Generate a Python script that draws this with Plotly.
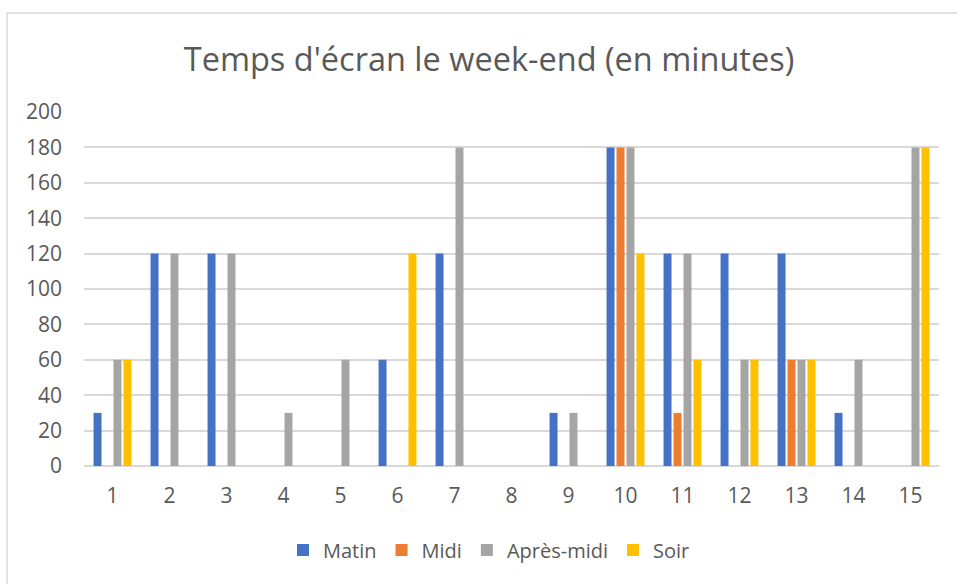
import plotly.graph_objects as go

categories = [str(i) for i in range(1, 16)]
matin = [30, 120, 120, 0, 0, 60, 120, 0, 30, 180, 120, 120, 120, 30, 0]
midi = [0, 0, 0, 0, 0, 0, 0, 0, 0, 180, 30, 0, 60, 0, 0]
apres_midi = [60, 120, 120, 30, 60, 0, 180, 0, 30, 180, 120, 60, 60, 60, 180]
soir = [60, 0, 0, 0, 0, 120, 0, 0, 0, 120, 60, 60, 60, 0, 180]

series = [("Matin", matin, "#4472C4"), ("Midi", midi, "#ED7D31"),
          ("Après-midi", apres_midi, "#A5A5A5"), ("Soir", soir, "#FFC000")]

fig = go.Figure()
for name, vals, col in series:
    fig.add_trace(go.Bar(x=categories, y=vals, name=name, marker_color=col,
                         marker_line_width=0))

W, H = 957, 584
L, R, T, B = 84, 18, 112, 118
pw, ph = W - L - R, H - T - B
def px(x): return (x - L) / pw
def py(y): return (H - B - y) / ph

fig.update_layout(
    width=W, height=H,
    margin=dict(l=L, r=R, t=T, b=B),
    paper_bgcolor="white", plot_bgcolor="white",
    font=dict(family="Open Sans, Liberation Sans, sans-serif", color="#595959", size=21),
    title=dict(text="Temps d'écran le week-end (en minutes)", x=px(489), xanchor="center",
               xref="paper", y=1 - 60 / H, yanchor="middle",
               font=dict(size=32.5, color="#595959")),
    barmode="group", bargap=0.3, bargroupgap=0.2,
    legend=dict(orientation="h", x=px(489), xanchor="center", y=py(550), yanchor="middle",
                font=dict(size=20, color="#595959"), traceorder="normal",
                itemwidth=30),
    xaxis=dict(showgrid=False, ticks="", showline=False, tickfont=dict(size=21),
               ticklabelstandoff=15),
    yaxis=dict(range=[0, 200], dtick=20, showgrid=True, gridcolor="#D9D9D9", gridwidth=1.5,
               zeroline=True, zerolinecolor="#D9D9D9", zerolinewidth=1.5,
               showline=False, ticks="", tickfont=dict(size=21), ticklabelstandoff=21),
    shapes=[dict(type="rect", xref="paper", yref="paper",
                 x0=px(7), x1=px(990), y0=py(620), y1=py(13),
                 line=dict(color="#D9D9D9", width=1.5), layer="below")],
)

fig.write_html("out.html", config={"displayModeBar": False},
               post_script="document.body.style.margin='0';document.body.style.overflow='hidden';")
